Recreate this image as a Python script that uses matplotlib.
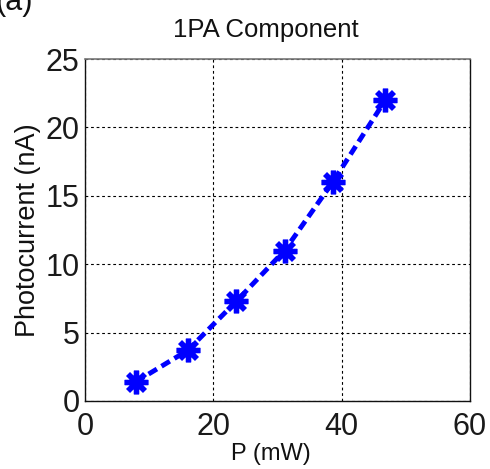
import matplotlib
matplotlib.use("Agg")
import matplotlib.pyplot as plt

# Measured photocurrent (1PA component) vs. laser power
power_mw = [7.9, 16.0, 23.6, 31.1, 38.6, 46.8]
current_na = [1.4, 3.7, 7.3, 11.0, 16.0, 22.0]

x_ticks = [0, 20, 40, 60]
y_ticks = [0, 5, 10, 15, 20, 25]

plt.rcParams["font.family"] = ["Liberation Sans", "DejaVu Sans"]

fig = plt.figure(figsize=(4.90, 4.69), dpi=100)
ax = fig.add_axes([0.1735, 0.145, 0.7857, 0.729])

ax.plot(power_mw, current_na, color="#0000ff", linestyle="--", linewidth=3.5,
        dashes=(2.0, 1.1), dash_capstyle="butt",
        marker=(8, 2, 0), markersize=17, markeredgewidth=3.8,
        markeredgecolor="#0000ff", markerfacecolor="#0000ff", zorder=3)

ax.set_xlim(0, 60)
ax.set_ylim(0, 25)
ax.set_xticks(x_ticks)
ax.set_yticks(y_ticks)
ax.tick_params(axis="both", labelsize=22, length=0, colors="#1a1a1a")
ax.tick_params(axis="y", pad=4)
ax.tick_params(axis="x", pad=8)

ax.grid(True, color="black", linestyle=(0, (2.5, 2.5)), linewidth=0.8)
ax.set_axisbelow(True)

for side in ["left", "bottom", "right"]:
    ax.spines[side].set_color("#111111")
    ax.spines[side].set_linewidth(1.0)
ax.spines["top"].set_color("#777777")
ax.spines["top"].set_linewidth(1.2)

ax.set_title("1PA Component", fontsize=18.5, pad=16, color="#111111", x=0.47)
ax.set_xlabel("P (mW)", fontsize=17, labelpad=1, color="#111111", x=0.483)
ax.set_ylabel("Photocurrent (nA)", fontsize=19.5, labelpad=3, color="#111111")

fig.text(-0.01, 0.995, "(a)", fontsize=22, ha="left", va="center", color="#111111")

fig.savefig("out.png", dpi=100)
